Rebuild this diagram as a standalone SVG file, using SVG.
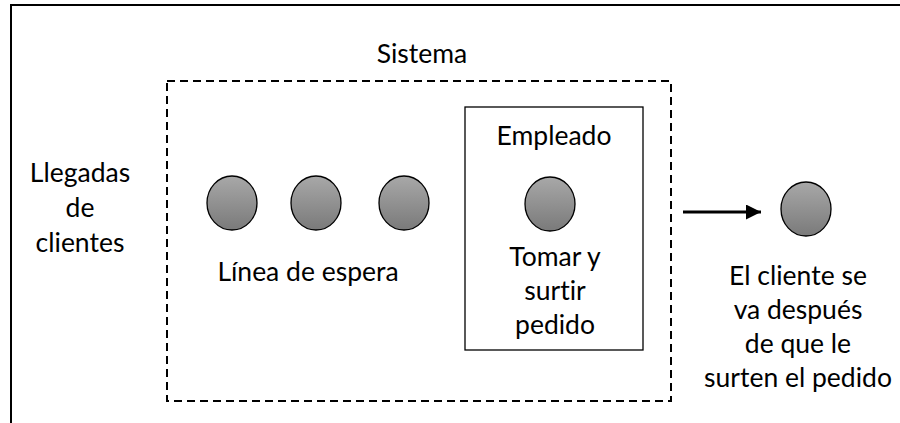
<svg xmlns="http://www.w3.org/2000/svg" width="900" height="423" viewBox="0 0 900 423">
<defs>
<linearGradient id="g" x1="0" y1="0" x2="0" y2="1">
<stop offset="0" stop-color="#a8a8a8"/>
<stop offset="1" stop-color="#7a7a7a"/>
</linearGradient>
<marker id="ah" viewBox="0 0 10 10" refX="10" refY="5" markerWidth="5.5" markerHeight="5" markerUnits="strokeWidth" orient="auto">
<path d="M0,0 L10,5 L0,10 Z" fill="#000"/>
</marker>
</defs>
<style>
text{font-family:Lato,"Liberation Sans",sans-serif;font-size:26.5px;fill:#000;text-anchor:middle;font-variant-ligatures:none}
.c{fill:url(#g);stroke:#000;stroke-width:1.3}
</style>
<rect width="900" height="423" fill="#fff"/>
<path d="M11,423 V5 H900" fill="none" stroke="#000" stroke-width="2"/>
<g id="sistema">
<rect x="167" y="81" width="504" height="320" fill="none" stroke="#000" stroke-width="2" stroke-dasharray="8,5"/>
<text x="422" y="63">Sistema</text>
</g>
<g id="llegadas">
<text x="80" y="182">Llegadas</text>
<text x="80" y="217">de</text>
<text x="80" y="252">clientes</text>
</g>
<g id="linea">
<ellipse class="c" cx="232" cy="203" rx="25" ry="27"/>
<ellipse class="c" cx="316" cy="203" rx="25" ry="27"/>
<ellipse class="c" cx="404" cy="203" rx="25" ry="27"/>
<text x="308" y="281">Línea de espera</text>
</g>
<g id="empleado">
<rect x="465" y="107" width="178" height="243" fill="none" stroke="#000" stroke-width="1.3"/>
<text x="554" y="145">Empleado</text>
<ellipse class="c" cx="550" cy="204" rx="25" ry="27"/>
<text x="555" y="266">Tomar y</text>
<text x="555" y="300">surtir</text>
<text x="555" y="334">pedido</text>
</g>
<g id="salida">
<ellipse class="c" cx="806" cy="209" rx="25" ry="27"/>
<text x="798" y="285">El cliente se</text>
<text x="798" y="319">va después</text>
<text x="798" y="353">de que le</text>
<text x="798" y="387">surten el pedido</text>
</g>
<g id="connectors">
<line x1="683" y1="212" x2="761" y2="212" stroke="#000" stroke-width="3" marker-end="url(#ah)"/>
</g>
</svg>
